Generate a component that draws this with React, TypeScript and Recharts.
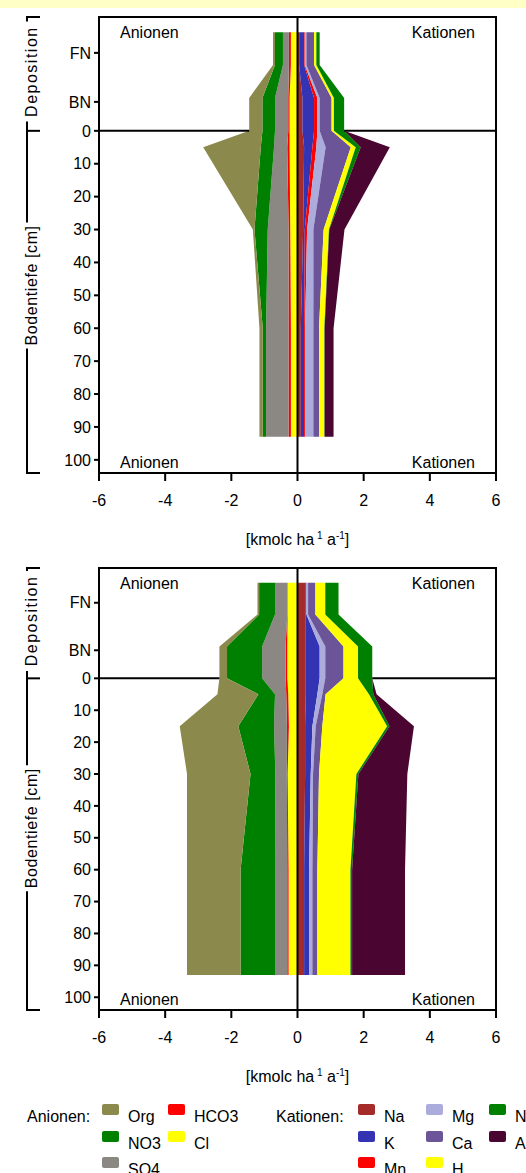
import React from 'react';
import {
  AreaChart,
  Area,
  XAxis,
  YAxis,
  ReferenceLine,
  ReferenceArea,
} from 'recharts';

const FONT = '"Liberation Sans", Arial, sans-serif';

// depth in cm; the rows above 0 are the deposition blocks (FN, BN)
const upperDepths = [-30, -20, -10, 0, 5, 30, 60, 93];
const lowerDepths = [-30, -20, -10, 0, 5, 15, 30, 60, 93];

// stacking order: first name sits next to the zero line
const anionNames = ['Cl', 'HCO3', 'SO4', 'NO3', 'Org'];
const cationNames = ['Na', 'K', 'Mn', 'Mg', 'Ca', 'H', 'NH4', 'Al'];

// kmolc ha-1 a-1, anions negative
const upperAnions: Record<string, number[]> = {
  Cl: [-0.2, -0.2, -0.24, -0.24, -0.24, -0.22, -0.2, -0.2],
  HCO3: [-0.06, -0.06, -0.04, -0.04, -0.07, -0.05, -0.07, -0.07],
  SO4: [-0.18, -0.18, -0.4, -0.4, -0.4, -0.63, -0.68, -0.68],
  NO3: [-0.24, -0.24, -0.38, -0.38, -0.4, -0.4, -0.1, -0.1],
  Org: [-0.06, -0.06, -0.4, -0.4, -1.74, -0.05, -0.1, -0.1],
};
const upperCations: Record<string, number[]> = {
  Na: [0.05, 0.05, 0.15, 0.15, 0.2, 0.17, 0.1, 0.1],
  K: [0.15, 0.15, 0.35, 0.35, 0.25, 0.05, 0.1, 0.1],
  Mn: [0.02, 0.02, 0.1, 0.1, 0.12, 0.07, 0.03, 0.03],
  Mg: [0.05, 0.05, 0.07, 0.07, 0.28, 0.19, 0.25, 0.25],
  Ca: [0.23, 0.23, 0.36, 0.36, 0.76, 0.31, 0.17, 0.17],
  H: [0.07, 0.07, 0.07, 0.07, 0.15, 0.16, 0.16, 0.16],
  NH4: [0.1, 0.1, 0.31, 0.31, 0.15, 0.01, 0.01, 0.01],
  Al: [0, 0, 0, 0, 0.88, 0.46, 0.27, 0.27],
};

const lowerAnions: Record<string, number[]> = {
  Cl: [-0.3, -0.3, -0.31, -0.31, -0.28, -0.26, -0.3, -0.27, -0.27],
  HCO3: [-0.01, -0.01, -0.05, -0.05, -0.06, -0.06, -0.02, -0.04, -0.04],
  SO4: [-0.37, -0.37, -0.71, -0.71, -0.34, -0.39, -0.35, -0.37, -0.37],
  NO3: [-0.48, -0.48, -1.06, -1.06, -0.5, -1.08, -0.75, -1.04, -1.04],
  Org: [-0.05, -0.05, -0.23, -0.23, -1.24, -1.77, -1.92, -1.62, -1.62],
};
const lowerCations: Record<string, number[]> = {
  Na: [0.25, 0.25, 0.25, 0.25, 0.25, 0.23, 0.23, 0.2, 0.2],
  K: [0.02, 0.02, 0.42, 0.42, 0.35, 0.22, 0.17, 0.15, 0.15],
  Mn: [0, 0, 0, 0, 0, 0, 0, 0, 0],
  Mg: [0.05, 0.05, 0.17, 0.17, 0.15, 0.1, 0.07, 0.1, 0.1],
  Ca: [0.22, 0.22, 0.55, 0.55, 0.1, 0.2, 0.18, 0.15, 0.15],
  H: [0.3, 0.3, 0.44, 0.44, 1.31, 1.96, 1.13, 1.0, 1.0],
  NH4: [0.4, 0.4, 0.43, 0.43, 0.13, 0.07, 0.06, 0.05, 0.05],
  Al: [0, 0, 0, 0, 0.1, 0.74, 1.48, 1.6, 1.6],
};

const xTicks = [-6, -4, -2, 0, 2, 4, 6];
const depthTicks = [-23.7, -8.8, 0, 10, 20, 30, 40, 50, 60, 70, 80, 90, 100];
const depthTickLabels = ['FN', 'BN', '0', '10', '20', '30', '40', '50', '60', '70', '80', '90', '100'];
const depthDomain: [number, number] = [-34.6, 104];

const anionLegend = [['Org', 'NO3', 'SO4'], ['HCO3', 'Cl']];
const cationLegend = [['Na', 'K', 'Mn'], ['Mg', 'Ca', 'H'], ['NH4', 'Al']];

const colors: Record<string, string> = {
  Org: '#8b8a4c',
  NO3: '#008000',
  SO4: '#8b8883',
  HCO3: '#ff0000',
  Cl: '#ffff00',
  Na: '#a52a2a',
  K: '#3333b3',
  Mn: '#ff0000',
  Mg: '#acacdc',
  Ca: '#6c5499',
  H: '#ffff00',
  NH4: '#008000',
  Al: '#4a0530',
};

type Row = Record<string, number>;

function buildRows(
  depths: number[],
  anions: Record<string, number[]>,
  cations: Record<string, number[]>
): Row[] {
  return depths.map((depth, i) => {
    const row: Row = { depth };
    anionNames.forEach((n) => (row[n] = anions[n][i]));
    cationNames.forEach((n) => (row[n] = cations[n][i]));
    return row;
  });
}

const upperRows = buildRows(upperDepths, upperAnions, upperCations);
const lowerRows = buildRows(lowerDepths, lowerAnions, lowerCations);

const cornerLabels = (props: any) => {
  const { x, y, width, height } = props.viewBox;
  return (
    <g fontFamily={FONT} fontSize={16} fill="#000">
      <text x={x + 21} y={y + 21}>Anionen</text>
      <text x={x + width - 21} y={y + 21} textAnchor="end">Kationen</text>
      <text x={x + 21} y={y + height - 5}>Anionen</text>
      <text x={x + width - 21} y={y + height - 5} textAnchor="end">Kationen</text>
    </g>
  );
};

const unitLabel = (props: any) => {
  const { x, y, width } = props.viewBox;
  return (
    <text x={x + width / 2} y={y + 72} textAnchor="middle" fontFamily={FONT} fontSize={16} fill="#000">
      [kmolc ha
      <tspan fontSize={10} dy={-6}> 1</tspan>
      <tspan dy={6}> a</tspan>
      <tspan fontSize={10} dy={-6}>-1</tspan>
      <tspan dy={6}>]</tspan>
    </text>
  );
};

const depthTitle = (props: any) => {
  const vb = props.viewBox;
  const yOf = (d: number) =>
    vb.y + ((d - depthDomain[0]) / (depthDomain[1] - depthDomain[0])) * vb.height;
  const top = vb.y;
  const bottom = vb.y + vb.height;
  const mid = yOf(0);
  const depoC = yOf(-18);
  const soilC = yOf(47);
  const bx = 27;
  const stroke = { stroke: '#000', strokeWidth: 2 };
  return (
    <g>
      <line x1={bx - 1} x2={40} y1={top} y2={top} {...stroke} />
      <line x1={bx - 1} x2={40} y1={mid} y2={mid} {...stroke} />
      <line x1={bx - 1} x2={40} y1={bottom} y2={bottom} {...stroke} />
      <line x1={bx} x2={bx} y1={top} y2={depoC - 50} {...stroke} />
      <line x1={bx} x2={bx} y1={depoC + 50} y2={soilC - 63} {...stroke} />
      <line x1={bx} x2={bx} y1={soilC + 63} y2={bottom} {...stroke} />
      <text
        transform={`translate(37 ${depoC}) rotate(-90)`}
        textAnchor="middle"
        fontFamily={FONT}
        fontSize={16}
        letterSpacing={1.5}
        fill="#000"
      >
        Deposition
      </text>
      <text
        transform={`translate(37 ${soilC}) rotate(-90)`}
        textAnchor="middle"
        fontFamily={FONT}
        fontSize={16}
        letterSpacing={0.6}
        fill="#000"
      >
        Bodentiefe [cm]
      </text>
    </g>
  );
};

interface ProfileProps {
  rows: Row[];
  plotHeight: number;
}

function ProfileChart({ rows, plotHeight }: ProfileProps) {
  const surface = rows.find((r) => r.depth === 0) as Row;
  const leftEdge = anionNames.reduce((s, n) => s + surface[n], 0);
  const rightEdge = cationNames.reduce((s, n) => s + surface[n], 0);
  const axisStroke = { stroke: '#000', strokeWidth: 2 };
  const tickStyle = { fill: '#000', fontSize: 16, fontFamily: FONT };

  return (
    <AreaChart
      width={526}
      height={17 + plotHeight + 87}
      data={rows}
      layout="vertical"
      stackOffset="sign"
      margin={{ top: 17, right: 30, bottom: 27, left: 39 }}
    >
      <XAxis
        type="number"
        domain={[-6, 6]}
        ticks={xTicks}
        interval={0}
        allowDataOverflow
        height={60}
        tickSize={8}
        tickMargin={14}
        axisLine={axisStroke}
        tickLine={axisStroke}
        tick={tickStyle}
        label={unitLabel}
      />
      <YAxis
        type="number"
        dataKey="depth"
        domain={depthDomain}
        ticks={depthTicks}
        interval={0}
        allowDataOverflow
        width={60}
        tickSize={5}
        tickMargin={3}
        axisLine={axisStroke}
        tickLine={axisStroke}
        tick={tickStyle}
        tickFormatter={(v: number) => depthTickLabels[depthTicks.indexOf(v)]}
        label={depthTitle}
      />
      <ReferenceLine segment={[{ x: -6, y: 0 }, { x: leftEdge, y: 0 }]} stroke="#000" strokeWidth={2} />
      <ReferenceLine segment={[{ x: rightEdge, y: 0 }, { x: 6, y: 0 }]} stroke="#000" strokeWidth={2} />
      {[...anionNames, ...cationNames].map((n) => (
        <Area
          key={n}
          dataKey={n}
          stackId="ions"
          type="linear"
          fill={colors[n]}
          fillOpacity={1}
          stroke="none"
          dot={false}
          activeDot={false}
          isAnimationActive={false}
        />
      ))}
      <ReferenceLine x={0} stroke="#000" strokeWidth={2} />
      <ReferenceArea
        x1={-6}
        x2={6}
        y1={depthDomain[0]}
        y2={depthDomain[1]}
        fill="none"
        fillOpacity={0}
        stroke="#000"
        strokeWidth={2}
        label={cornerLabels}
      />
    </AreaChart>
  );
}

function Legend() {
  const rowTop = [14, 41, 67];
  const item = (name: string, x: number, r: number) => (
    <g key={name}>
      <rect x={x} y={rowTop[r]} width={17} height={11} rx={2} fill={colors[name]} />
      <text x={x + 26} y={rowTop[r] + 18} fontFamily={FONT} fontSize={16} fill="#000">
        {name}
      </text>
    </g>
  );
  const anionX = [102, 168];
  const cationX = [358, 426, 489];
  return (
    <svg width={526} height={83} style={{ position: 'absolute', left: 0, top: 1090 }}>
      <text x={27} y={32} fontFamily={FONT} fontSize={16} fill="#000">Anionen:</text>
      <text x={276} y={32} fontFamily={FONT} fontSize={16} fill="#000">Kationen:</text>
      {anionLegend.map((col, c) => col.map((n, r) => item(n, anionX[c], r)))}
      {cationLegend.map((col, c) => col.map((n, r) => item(n, cationX[c], r)))}
    </svg>
  );
}

export default function App() {
  return (
    <div
      style={{
        position: 'relative',
        width: 526,
        height: 1173,
        overflow: 'hidden',
        background: '#fff',
        fontFamily: FONT,
      }}
    >
      <style>{'body{margin:0}'}</style>
      <div style={{ position: 'absolute', left: 0, top: 0, width: 526, height: 8, background: '#ffffc6' }} />
      <div style={{ position: 'absolute', left: 0, top: 0 }}>
        <ProfileChart rows={upperRows} plotHeight={456} />
      </div>
      <div style={{ position: 'absolute', left: 0, top: 551 }}>
        <ProfileChart rows={lowerRows} plotHeight={442} />
      </div>
      <Legend />
    </div>
  );
}
